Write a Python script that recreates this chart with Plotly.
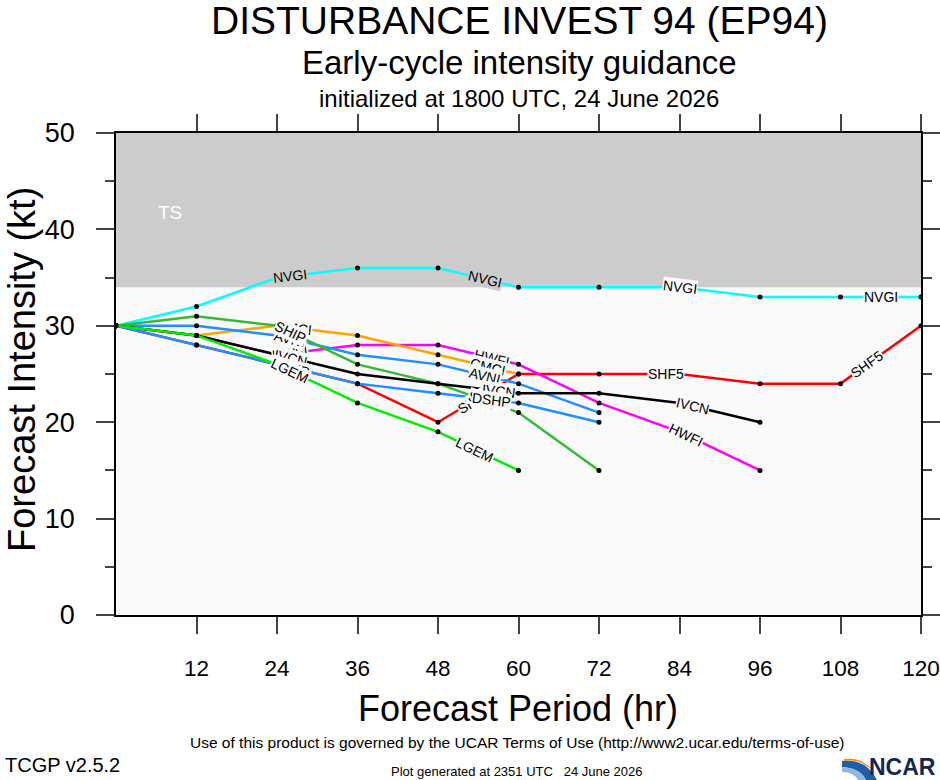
import math
import plotly.graph_objects as go

# forecast hours and model intensities (kt)
hours = [0, 12, 24, 36, 48, 60, 72, 84, 96, 108, 120]

shf5 = [30, 28, 26, 24, 20, 25, 25, 25, 24, 24, 30]
hwfi = [30, 29, 27, 28, 28, 26, 22, 19, 15]
nvgi = [30, 32, 35, 36, 36, 34, 34, 34, 33, 33, 33]
cmci = [30, 29, 30, 29, 27, 25]
avni = [30, 30, 29, 27, 26, 24, 21]
ship = [30, 31, 30, 26, 24, 21, 15]
ivcn = [30, 29, 27, 25, 24, 23, 23, 22, 20]
dshp = [30, 28, 26, 24, 23, 22, 20]
lgem = [30, 29, 26, 22, 19, 15]

models = ["SHF5", "HWFI", "NVGI", "CMCI", "AVNI", "SHIP", "IVCN", "DSHP", "LGEM"]
series = [shf5, hwfi, nvgi, cmci, avni, ship, ivcn, dshp, lgem]

x_ticks = [12, 24, 36, 48, 60, 72, 84, 96, 108, 120]
y_ticks = [0, 10, 20, 30, 40, 50]
ts_low, ts_high = 34, 50

# styling
colors = ["#ff0000", "#ff00ff", "#00ffff", "#ffa500", "#1e90ff",
          "#33bb33", "#000000", "#1e90ff", "#00ee00"]
label_at = [[26, 53.4, 82, 112], [26, 56, 85], [26, 55, 84, 114], [26.5, 55.5],
            [26, 55], [26, 55], [26, 57, 86], [26, 56], [26, 53.5]]

W, H = 940, 780
L, R, T, B = 116, 921, 133, 615
FONT = "Liberation Sans, Arial, Helvetica, sans-serif"
PLOT_BG = "#fafafa"
TS_BG = "#cccccc"

px_hr = (R - L) / 120.0
px_kt = (B - T) / 50.0


def paper(x, y):
    return (x - L) / (R - L), (B - y) / (B - T)


def value_at(vals, h):
    n = len(vals)
    i = min(int(h // 12), n - 2)
    f = (h - hours[i]) / 12.0
    v = vals[i] + (vals[i + 1] - vals[i]) * f
    ang = math.degrees(math.atan2((vals[i] - vals[i + 1]) * px_kt, 12 * px_hr))
    return v, ang


fig = go.Figure()

for name, vals, col in zip(models, series, colors):
    fig.add_trace(go.Scatter(
        x=hours[:len(vals)], y=vals, name=name, mode="lines+markers",
        line=dict(color=col, width=2.5),
        marker=dict(color="black", size=5),
        showlegend=False, hoverinfo="skip"))

annotations = []
for name, vals, spots in zip(models, series, label_at):
    for h in spots:
        v, ang = value_at(vals, h)
        annotations.append(dict(
            x=h, y=v, xref="x", yref="y", text=name, showarrow=False,
            textangle=ang, bgcolor=TS_BG if v > ts_low + 0.3 else PLOT_BG, borderpad=0,
            font=dict(family=FONT, size=14, color="black")))


def text(x, y, s, size, **kw):
    px, py = paper(x, y)
    d = dict(x=px, y=py, xref="paper", yref="paper", text=s, showarrow=False,
             xanchor="center", yanchor="middle",
             font=dict(family=FONT, size=size, color=kw.pop("color", "black")))
    d.update(kw)
    annotations.append(d)


text(519, 21, "DISTURBANCE INVEST 94 (EP94)", 39)
text(519, 62, "Early-cycle intensity guidance", 33)
text(519, 98, "initialized at 1800 UTC, 24 June 2026", 24)
text(518, 708, "Forecast Period (hr)", 36)
text(22, 370, "Forecast Intensity (kt)", 38, textangle=-90)
text(170, 212, "TS", 19, color="white")
text(517, 742, "Use of this product is governed by the UCAR Terms of Use (http://www2.ucar.edu/terms-of-use)", 15.5)
text(62, 765, "TCGP v2.5.2", 20)
text(517, 771, "Plot generated at 2351 UTC   24 June 2026", 13)
text(902, 767, "<b>NCAR</b>", 23, color="#14284b")

shapes = [dict(type="rect", xref="x", yref="y", x0=0, x1=120, y0=ts_low, y1=ts_high,
               fillcolor=TS_BG, line=dict(width=0), layer="below")]


def swoosh(pts_path, fill):
    parts = []
    for cmd, pts in pts_path:
        coords = " ".join("%.4f,%.4f" % paper(x, y) for x, y in pts)
        parts.append(cmd + " " + coords)
    return dict(type="path", xref="paper", yref="paper", path=" ".join(parts) + " Z",
                fillcolor=fill, line=dict(width=0))


shapes.append(swoosh([("M", [(842, 761)]), ("Q", [(866, 758), (877, 780)]),
                      ("L", [(866, 780)]), ("Q", [(860, 768), (842, 767)])], "#1f5fa8"))
shapes.append(swoosh([("M", [(842, 767)]), ("Q", [(860, 768), (866, 780)]),
                      ("L", [(858, 780)]), ("Q", [(854, 772), (842, 772)])], "#8fb8e0"))
shapes.append(swoosh([("M", [(844, 759)]), ("Q", [(866, 756), (878, 778)]),
                      ("Q", [(866, 758), (844, 761)])], "#f08a24"))

fig.update_layout(
    width=W, height=H, autosize=False,
    margin=dict(l=L, r=W - R, t=T, b=H - B, pad=0),
    paper_bgcolor="white", plot_bgcolor=PLOT_BG,
    annotations=annotations, shapes=shapes,
    font=dict(family=FONT, color="black"),
)

fig.update_xaxes(
    range=[0, 120], tickvals=x_ticks, ticks="outside", ticklen=17, tickwidth=1.5,
    tickfont=dict(size=22.5), ticklabelstandoff=15, automargin=False,
    ticklabeloverflow="allow",
    showline=True, linecolor="black", linewidth=1.5, mirror="ticks",
    showgrid=False, zeroline=False)

fig.update_yaxes(
    range=[0, 50], tickvals=y_ticks, ticks="outside", ticklen=18, tickwidth=1.5,
    tickfont=dict(size=27), ticklabelstandoff=16, automargin=False,
    ticklabeloverflow="allow",
    minor=dict(dtick=5, ticks="outside", ticklen=9, tickwidth=1.5),
    showline=True, linecolor="black", linewidth=1.5, mirror="ticks",
    showgrid=False, zeroline=False)

fig.write_html(
    "out.html", config={"responsive": False, "displayModeBar": False},
    post_script="document.body.style.margin='0';document.body.style.overflow='hidden';")
